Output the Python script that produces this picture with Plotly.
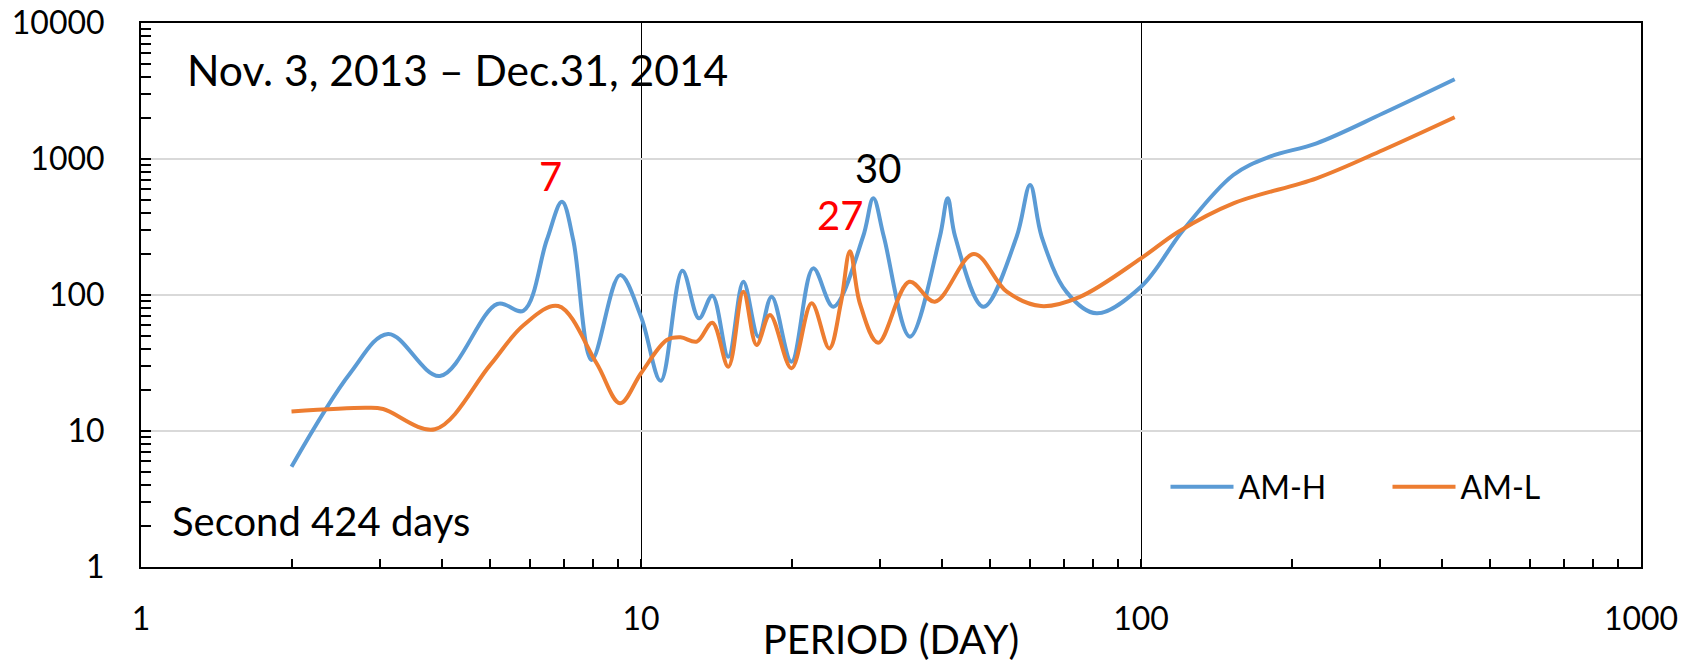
import plotly.graph_objects as go

# Data (period in days, spectral amplitude)
period_h = [2.0, 2.62, 3.12, 3.96, 5.16, 5.82, 6.48, 6.95, 7.32, 7.97, 9.08,
            10.0, 10.95, 12.1, 13.06, 13.89, 14.95, 16.02, 17.17, 18.25, 20.0, 22.1, 24.25,
            27.8, 29.15, 30.6, 34.5, 39.6, 41.06, 42.5, 48.4,
            56.4, 60.0, 63.3, 71.0, 81.5, 100, 121.5, 153, 181, 224.5, 305, 424]
am_h = [5.46, 26.6, 51.7, 25.4, 85.9, 76.7, 253.7, 485, 253.7, 33.3, 140,
        69.3, 23.4, 151, 67.4, 98.9, 35.2, 125, 49.4, 97.2, 32.3, 157, 82,
        268, 514, 268, 49.4, 268, 514, 268, 82,
        268, 644, 268, 105, 73.3, 115, 300.7, 763, 1040, 1304, 2168, 3855]

period_l = [2.0, 2.83, 3.05, 3.87, 4.99, 5.82, 6.83, 8.15, 9.08, 10.0, 11.26, 12.0, 12.93,
            13.89, 14.95, 16.02, 17.03, 18.11, 20.0, 21.94, 23.8, 25.1, 26.18, 27.4, 29.8,
            34.4, 38.7, 46.3, 53.9, 63.1, 75.5, 100, 118.8, 153, 224.5, 305, 424]
am_l = [13.9, 14.8, 14.5, 10.3, 30.5, 60.0, 83.0, 31.5, 16.0, 26.6, 46.7, 48.9, 45.4,
        62.6, 29.7, 105.7, 42.9, 71.3, 28.9, 86.9, 40.5, 86.9, 210, 86.9, 44.6,
        125, 89.3, 200, 105.7, 83, 97, 186, 292, 472, 721, 1165, 2027]

x_ticks = [1, 10, 100, 1000]
y_ticks = [1, 10, 100, 1000, 10000]

FONT = "Lato"

fig = go.Figure()
fig.add_trace(go.Scatter(x=period_h, y=am_h, name="AM-H", mode="lines",
                         line=dict(color="#5B9BD5", width=4, shape="spline", smoothing=1.0)))
fig.add_trace(go.Scatter(x=period_l, y=am_l, name="AM-L", mode="lines",
                         line=dict(color="#ED7D31", width=4, shape="spline", smoothing=1.0)))

fig.update_layout(
    width=1698, height=663,
    margin=dict(l=141, r=57, t=23, b=96),
    paper_bgcolor="white", plot_bgcolor="white",
    font=dict(family=FONT, size=32, color="black"),
    showlegend=True,
    legend=dict(orientation="h", x=0.683, y=0.147, xanchor="left", yanchor="middle",
                font=dict(size=32, family=FONT), bgcolor="rgba(0,0,0,0)",
                itemwidth=63, entrywidth=144, entrywidthmode="pixels"),
)

fig.update_xaxes(
    type="log", range=[0, 3], automargin=False,
    tickvals=x_ticks, ticktext=[str(v) for v in x_ticks],
    ticks="inside", ticklen=8, tickwidth=1.5, tickcolor="black",
    showline=True, linecolor="black", linewidth=2, mirror=True,
    showgrid=True, gridcolor="black", gridwidth=1.3,
    minor=dict(ticks="inside", ticklen=8, tickwidth=1.5, tickcolor="black",
               dtick="D1", showgrid=False),
    ticklabelstandoff=23,
    tickfont=dict(size=32, family=FONT),
    title=dict(text="PERIOD (DAY)", font=dict(size=40, family=FONT), standoff=0),
    zeroline=False,
)
fig.update_yaxes(
    type="log", range=[0, 4], automargin=False,
    tickvals=y_ticks, ticktext=[str(v) for v in y_ticks],
    ticks="inside", ticklen=10, tickwidth=1.5, tickcolor="black",
    showline=True, linecolor="black", linewidth=2, mirror=True,
    showgrid=True, gridcolor="#D9D9D9", gridwidth=1.5,
    minor=dict(ticks="inside", ticklen=10, tickwidth=1.5, tickcolor="black",
               dtick="D1", showgrid=False),
    ticklabelstandoff=28,
    tickfont=dict(size=32, family=FONT),
    zeroline=False,
)

def ann(text, x, y, size, color="black", xanchor="center"):
    fig.add_annotation(text=text, x=x, y=y, xref="paper", yref="paper",
                       xanchor=xanchor, yanchor="middle", showarrow=False,
                       font=dict(size=size, color=color, family=FONT))

ann("Nov. 3, 2013 \u2013 Dec.31, 2014", 0.029, 0.9154, 42.6, xanchor="left")
ann("Second 424 days", 0.019, 0.0845, 40, xanchor="left")
ann("7", 0.2727, 0.7188, 40, color="#FF0000")
ann("30", 0.4913, 0.7335, 40)
ann("27", 0.466, 0.647, 40, color="#FF0000")

fig.write_html("out.html")
